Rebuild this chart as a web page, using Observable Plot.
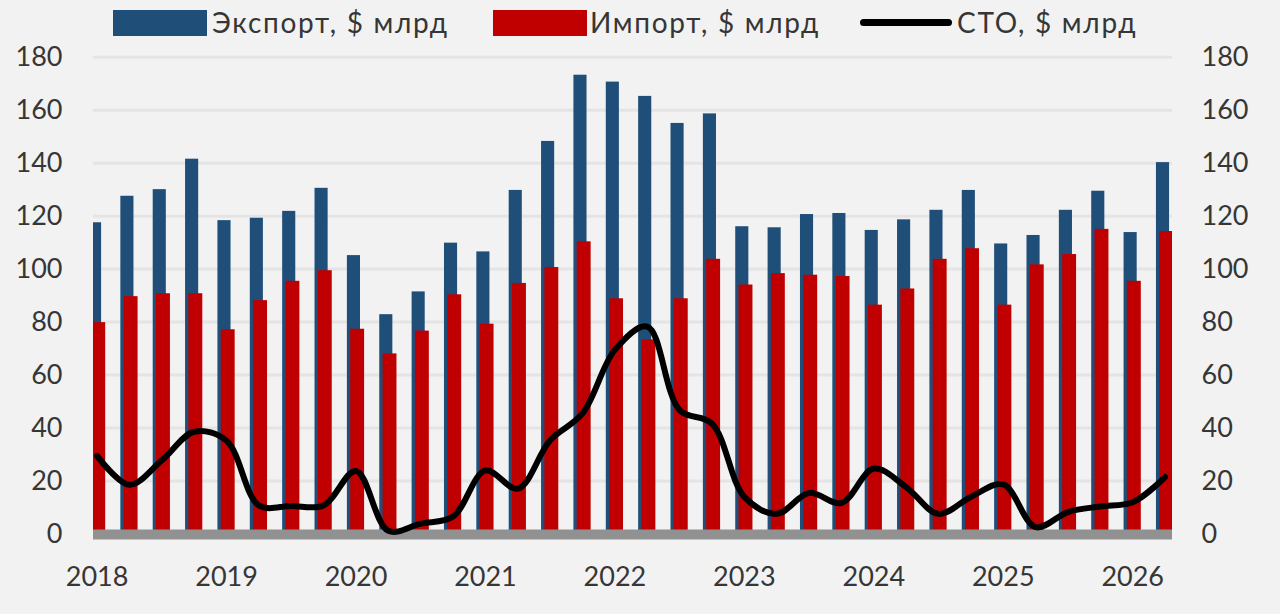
<!DOCTYPE html>
<html>
<head>
<meta charset="utf-8">
<script src="https://cdn.jsdelivr.net/npm/d3@7"></script>
<script src="https://cdn.jsdelivr.net/npm/@observablehq/plot@0.6"></script>
<style>
  html, body { margin: 0; padding: 0; background: #f2f2f2; overflow: hidden; }
  body { width: 1280px; height: 614px; font-family: Lato, "Open Sans", sans-serif; color: #363636; }
  #legend { position: relative; width: 1280px; height: 40px; }
  #legend .sw { position: absolute; }
  #legend .tx { position: absolute; top: 4px; font-size: 28px; line-height: 36px; letter-spacing: 1.7px; white-space: nowrap; }
  #chart svg { display: block; }
</style>
</head>
<body>
<div id="legend"></div>
<div id="chart"></div>
<script>
// Quarterly data, 2018 Q1 – 2026 Q2
const quarters = [
  "2018Q1","2018Q2","2018Q3","2018Q4",
  "2019Q1","2019Q2","2019Q3","2019Q4",
  "2020Q1","2020Q2","2020Q3","2020Q4",
  "2021Q1","2021Q2","2021Q3","2021Q4",
  "2022Q1","2022Q2","2022Q3","2022Q4",
  "2023Q1","2023Q2","2023Q3","2023Q4",
  "2024Q1","2024Q2","2024Q3","2024Q4",
  "2025Q1","2025Q2","2025Q3","2025Q4",
  "2026Q1","2026Q2"
];
const exportVals = [
  117.5, 127.5, 130, 141.5,
  118.3, 119.2, 121.8, 130.5,
  105.1, 82.8, 91.4, 109.8,
  106.5, 129.7, 148.2, 173.2,
  170.6, 165.2, 155, 158.6,
  116, 115.6, 120.6, 121,
  114.6, 118.6, 122.2, 129.7,
  109.5, 112.7, 122.2, 129.4,
  113.8, 140.2
];
const importVals = [
  79.8, 89.6, 90.7, 90.7,
  77.1, 88.1, 95.4, 99.4,
  77.3, 68, 76.6, 90.3,
  79.2, 94.6, 100.6, 110.3,
  88.8, 73.3, 88.8, 103.7,
  94, 98.3, 97.7, 97.2,
  86.4, 92.5, 103.7, 107.7,
  86.4, 101.6, 105.5, 115,
  95.4, 114.2
];
const ctoVals = [
  29.5, 18.6, 27.8, 38.6,
  35.2, 10.8, 10.6, 10.8,
  23.8, 1.2, 3.9, 6.6,
  24, 17.1, 35.4, 45.5,
  69.5, 78.3, 46.8, 41.7,
  14, 7.6, 15.5, 11.7,
  24.7, 17.7, 7.6, 14,
  18.7, 2.6, 8.3, 10.4,
  12, 21.5
];
const yearLabels = ["2018","2019","2020","2021","2022","2023","2024","2025","2026"];
const yTicks = [0, 20, 40, 60, 80, 100, 120, 140, 160, 180];
const seriesNames = ["Экспорт, $ млрд", "Импорт, $ млрд", "СТО, $ млрд"];
const colors = { exp: "#1f4e79", imp: "#c00000", cto: "#000000" };

const data = quarters.map((q, i) => ({ i, q, exp: exportVals[i], imp: importVals[i], cto: ctoVals[i] }));
const yearTickPos = yearLabels.map((y) => quarters.indexOf(y + "Q1"));

// Legend (HTML, above the SVG)
const legend = document.getElementById("legend");
legend.innerHTML = `
  <div class="sw" style="left:113px;top:10px;width:94px;height:26px;background:${colors.exp};"></div>
  <div class="tx" style="left:212px;">${seriesNames[0]}</div>
  <div class="sw" style="left:493px;top:10px;width:94px;height:26px;background:${colors.imp};"></div>
  <div class="tx" style="left:590px;">${seriesNames[1]}</div>
  <div class="sw" style="left:860px;top:19px;width:92px;height:7px;border-radius:4px;background:${colors.cto};"></div>
  <div class="tx" style="left:957px;">${seriesNames[2]}</div>
`;

const chart = Plot.plot({
  width: 1280,
  height: 574,
  marginLeft: 93,
  marginRight: 108,
  marginTop: 16.7,
  marginBottom: 80.5,
  style: { background: "#f2f2f2", fontFamily: "Lato, 'Open Sans', sans-serif", fontSize: "27px", color: "#363636" },
  x: { type: "linear", domain: [-0.111, 33.23] },
  y: { domain: [0, 180] },
  marks: [
    Plot.gridY(yTicks, { stroke: "#e4e4e4", strokeOpacity: 1, strokeWidth: 3 }),
    Plot.rectY(data, { x1: d => d.i - 0.266, x2: d => d.i + 0.139, y: "exp", fill: colors.exp, clip: true }),
    Plot.rectY(data, { x1: d => d.i - 0.164, x2: d => d.i + 0.266, y: "imp", fill: colors.imp, clip: true }),
    Plot.ruleY([0], { stroke: "#919191", strokeWidth: 10, dy: 0.5 }),
    Plot.line(data, { x: "i", y: "cto", stroke: colors.cto, strokeWidth: 6, curve: "catmull-rom" }),
    Plot.axisY(yTicks, { anchor: "left", tickSize: 0, tickPadding: 31, label: null, fontSize: 27 }),
    Plot.axisY(yTicks, { anchor: "right", tickSize: 0, tickPadding: 29, label: null, fontSize: 27 }),
    Plot.axisX(yearTickPos, { anchor: "bottom", tickSize: 0, tickPadding: 33, label: null, fontSize: 27,
      tickFormat: (d) => yearLabels[yearTickPos.indexOf(d)] })
  ]
});
document.getElementById("chart").appendChild(chart);
</script>
</body>
</html>
